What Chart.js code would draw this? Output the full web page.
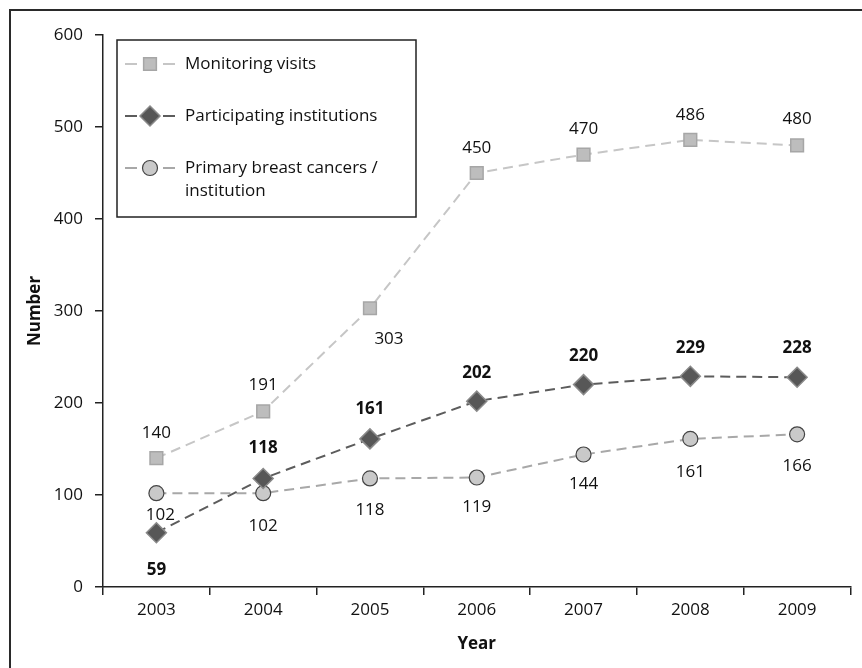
<!DOCTYPE html>
<html>
<head>
<meta charset="utf-8">
<title>Number by year</title>
<script src="https://cdn.jsdelivr.net/npm/chart.js@4/dist/chart.umd.min.js"></script>
<style>
  html, body { margin: 0; padding: 0; background: #fff; }
  #wrap { position: relative; width: 862px; height: 668px; overflow: hidden; }
  #frame { position: absolute; left: 9px; top: 9px; width: 900px; height: 700px;
           border-top: 2px solid #2a2a2a; border-left: 2px solid #2a2a2a; }
  canvas { position: absolute; left: 0; top: 0; }
</style>
</head>
<body>
<div id="wrap">
  <div id="frame"></div>
  <canvas id="chart" width="862" height="668"></canvas>
</div>
<script>
const years = ['2003', '2004', '2005', '2006', '2007', '2008', '2009'];
const monitoringVisits = [140, 191, 303, 450, 470, 486, 480];
const participatingInstitutions = [59, 118, 161, 202, 220, 229, 228];
const cancersPerInstitution = [102, 102, 118, 119, 144, 161, 166];
const yTicks = [0, 100, 200, 300, 400, 500, 600];

const FONT = '"Open Sans", "Liberation Sans", sans-serif';
const FS = 17;

// Value labels next to each marker; dx/dy are pixel offsets from the marker
const valueLabels = {
  id: 'valueLabels',
  afterDatasetsDraw(chart) {
    const ctx = chart.ctx;
    chart.data.datasets.forEach((ds, i) => {
      const meta = chart.getDatasetMeta(i);
      ctx.save();
      ctx.font = (ds.labelBold ? 'bold ' : '') + FS + 'px ' + FONT;
      ctx.fillStyle = '#111';
      ctx.textAlign = 'center';
      ctx.textBaseline = 'middle';
      meta.data.forEach((pt, j) => {
        const dx = ds.labelDx ? ds.labelDx[j] : 0;
        const dy = ds.labelDy[j];
        ctx.fillText(String(ds.data[j]), pt.x + dx, pt.y + dy);
      });
      ctx.restore();
    });
  }
};

// Boxed legend in the upper-left of the plot
const boxLegend = {
  id: 'boxLegend',
  afterDraw(chart) {
    const ctx = chart.ctx;
    const bx = 117, by = 40, bw = 299, bh = 177;
    ctx.save();
    ctx.fillStyle = '#fff';
    ctx.fillRect(bx, by, bw, bh);
    ctx.strokeStyle = '#222';
    ctx.lineWidth = 1.5;
    ctx.strokeRect(bx, by, bw, bh);
    const rows = [
      { ds: 0, y: 64, lines: ['Monitoring visits'] },
      { ds: 1, y: 116, lines: ['Participating institutions'] },
      { ds: 2, y: 168, lines: ['Primary breast cancers /', 'institution'] }
    ];
    rows.forEach(r => {
      const ds = chart.data.datasets[r.ds];
      const cx = 150;
      ctx.strokeStyle = ds.borderColor;
      ctx.lineWidth = 2;
      ctx.setLineDash([]);
      ctx.beginPath();
      ctx.moveTo(125, r.y); ctx.lineTo(137, r.y);
      ctx.moveTo(163, r.y); ctx.lineTo(175, r.y);
      ctx.stroke();
      ctx.save();
      ctx.fillStyle = ds.pointBackgroundColor;
      ctx.strokeStyle = ds.pointBorderColor;
      ctx.lineWidth = ds.pointBorderWidth;
      Chart.helpers.drawPoint(ctx, {
        pointStyle: ds.pointStyle,
        radius: ds.pointRadius,
        borderWidth: ds.pointBorderWidth,
        rotation: 0
      }, cx, r.y);
      ctx.restore();
      ctx.fillStyle = '#111';
      ctx.font = FS + 'px ' + FONT;
      ctx.textAlign = 'left';
      ctx.textBaseline = 'middle';
      r.lines.forEach((t, k) => ctx.fillText(t, 185, r.y + k * 23));
    });
    ctx.restore();
  }
};

new Chart(document.getElementById('chart'), {
  type: 'line',
  data: {
    labels: years,
    datasets: [
      {
        label: 'Monitoring visits',
        data: monitoringVisits,
        borderColor: '#c6c6c6',
        borderWidth: 2,
        borderDash: [10, 6],
        pointStyle: 'rect',
        pointRadius: 9,
        pointHoverRadius: 9,
        pointBackgroundColor: '#bdbdbd',
        pointBorderColor: '#a6a6a6',
        pointBorderWidth: 1.5,
        order: 2,
        labelDx: [0, 0, 19, 0, 0, 0, 0],
        labelDy: [-25, -26, 31, -25, -25, -25, -26],
        labelBold: false
      },
      {
        label: 'Participating institutions',
        data: participatingInstitutions,
        borderColor: '#5c5c5c',
        borderWidth: 2,
        borderDash: [10, 6],
        pointStyle: 'rectRot',
        pointRadius: 10,
        pointHoverRadius: 10,
        pointBackgroundColor: '#575757',
        pointBorderColor: '#8a8a8a',
        pointBorderWidth: 1.5,
        order: 0,
        labelDy: [37, -30, -30, -28, -28, -28, -29],
        labelBold: true
      },
      {
        label: 'Primary breast cancers / institution',
        data: cancersPerInstitution,
        borderColor: '#a8a8a8',
        borderWidth: 2,
        borderDash: [10, 6],
        pointStyle: 'circle',
        pointRadius: 7.5,
        pointHoverRadius: 7.5,
        pointBackgroundColor: '#c9c9c9',
        pointBorderColor: '#444',
        pointBorderWidth: 1.2,
        order: 1,
        labelDx: [4, 0, 0, 0, 0, 0, 0],
        labelDy: [22, 33, 32, 30, 30, 33, 32],
        labelBold: false
      }
    ]
  },
  options: {
    responsive: false,
    animation: false,
    events: [],
    layout: { padding: { left: 0, top: 35, right: 4, bottom: 0 } },
    plugins: { legend: { display: false }, tooltip: { enabled: false } },
    scales: {
      x: {
        type: 'category',
        offset: true,
        afterFit(s) { s.height = 81; },
        grid: { offset: true, drawOnChartArea: false, tickLength: 8, color: '#222', lineWidth: 1.5 },
        border: { color: '#222', width: 1.5 },
        ticks: { color: '#111', font: { family: FONT, size: FS }, padding: 5, maxRotation: 0 },
        title: { display: true, text: 'Year', color: '#111', font: { family: FONT, size: FS, weight: 'bold' }, padding: { top: 0, bottom: 14 } }
      },
      y: {
        min: 0,
        max: 600,
        afterFit(s) { s.width = 103; },
        afterBuildTicks(s) { s.ticks = yTicks.map(v => ({ value: v })); },
        grid: { drawOnChartArea: false, tickLength: 8, color: '#222', lineWidth: 1.5 },
        border: { color: '#222', width: 1.5 },
        ticks: { color: '#111', font: { family: FONT, size: FS }, padding: 12 },
        title: { display: true, text: 'Number', color: '#111', font: { family: FONT, size: FS, weight: 'bold' }, padding: { top: 25, bottom: 0 } }
      }
    }
  },
  plugins: [valueLabels, boxLegend]
});
</script>
</body>
</html>
